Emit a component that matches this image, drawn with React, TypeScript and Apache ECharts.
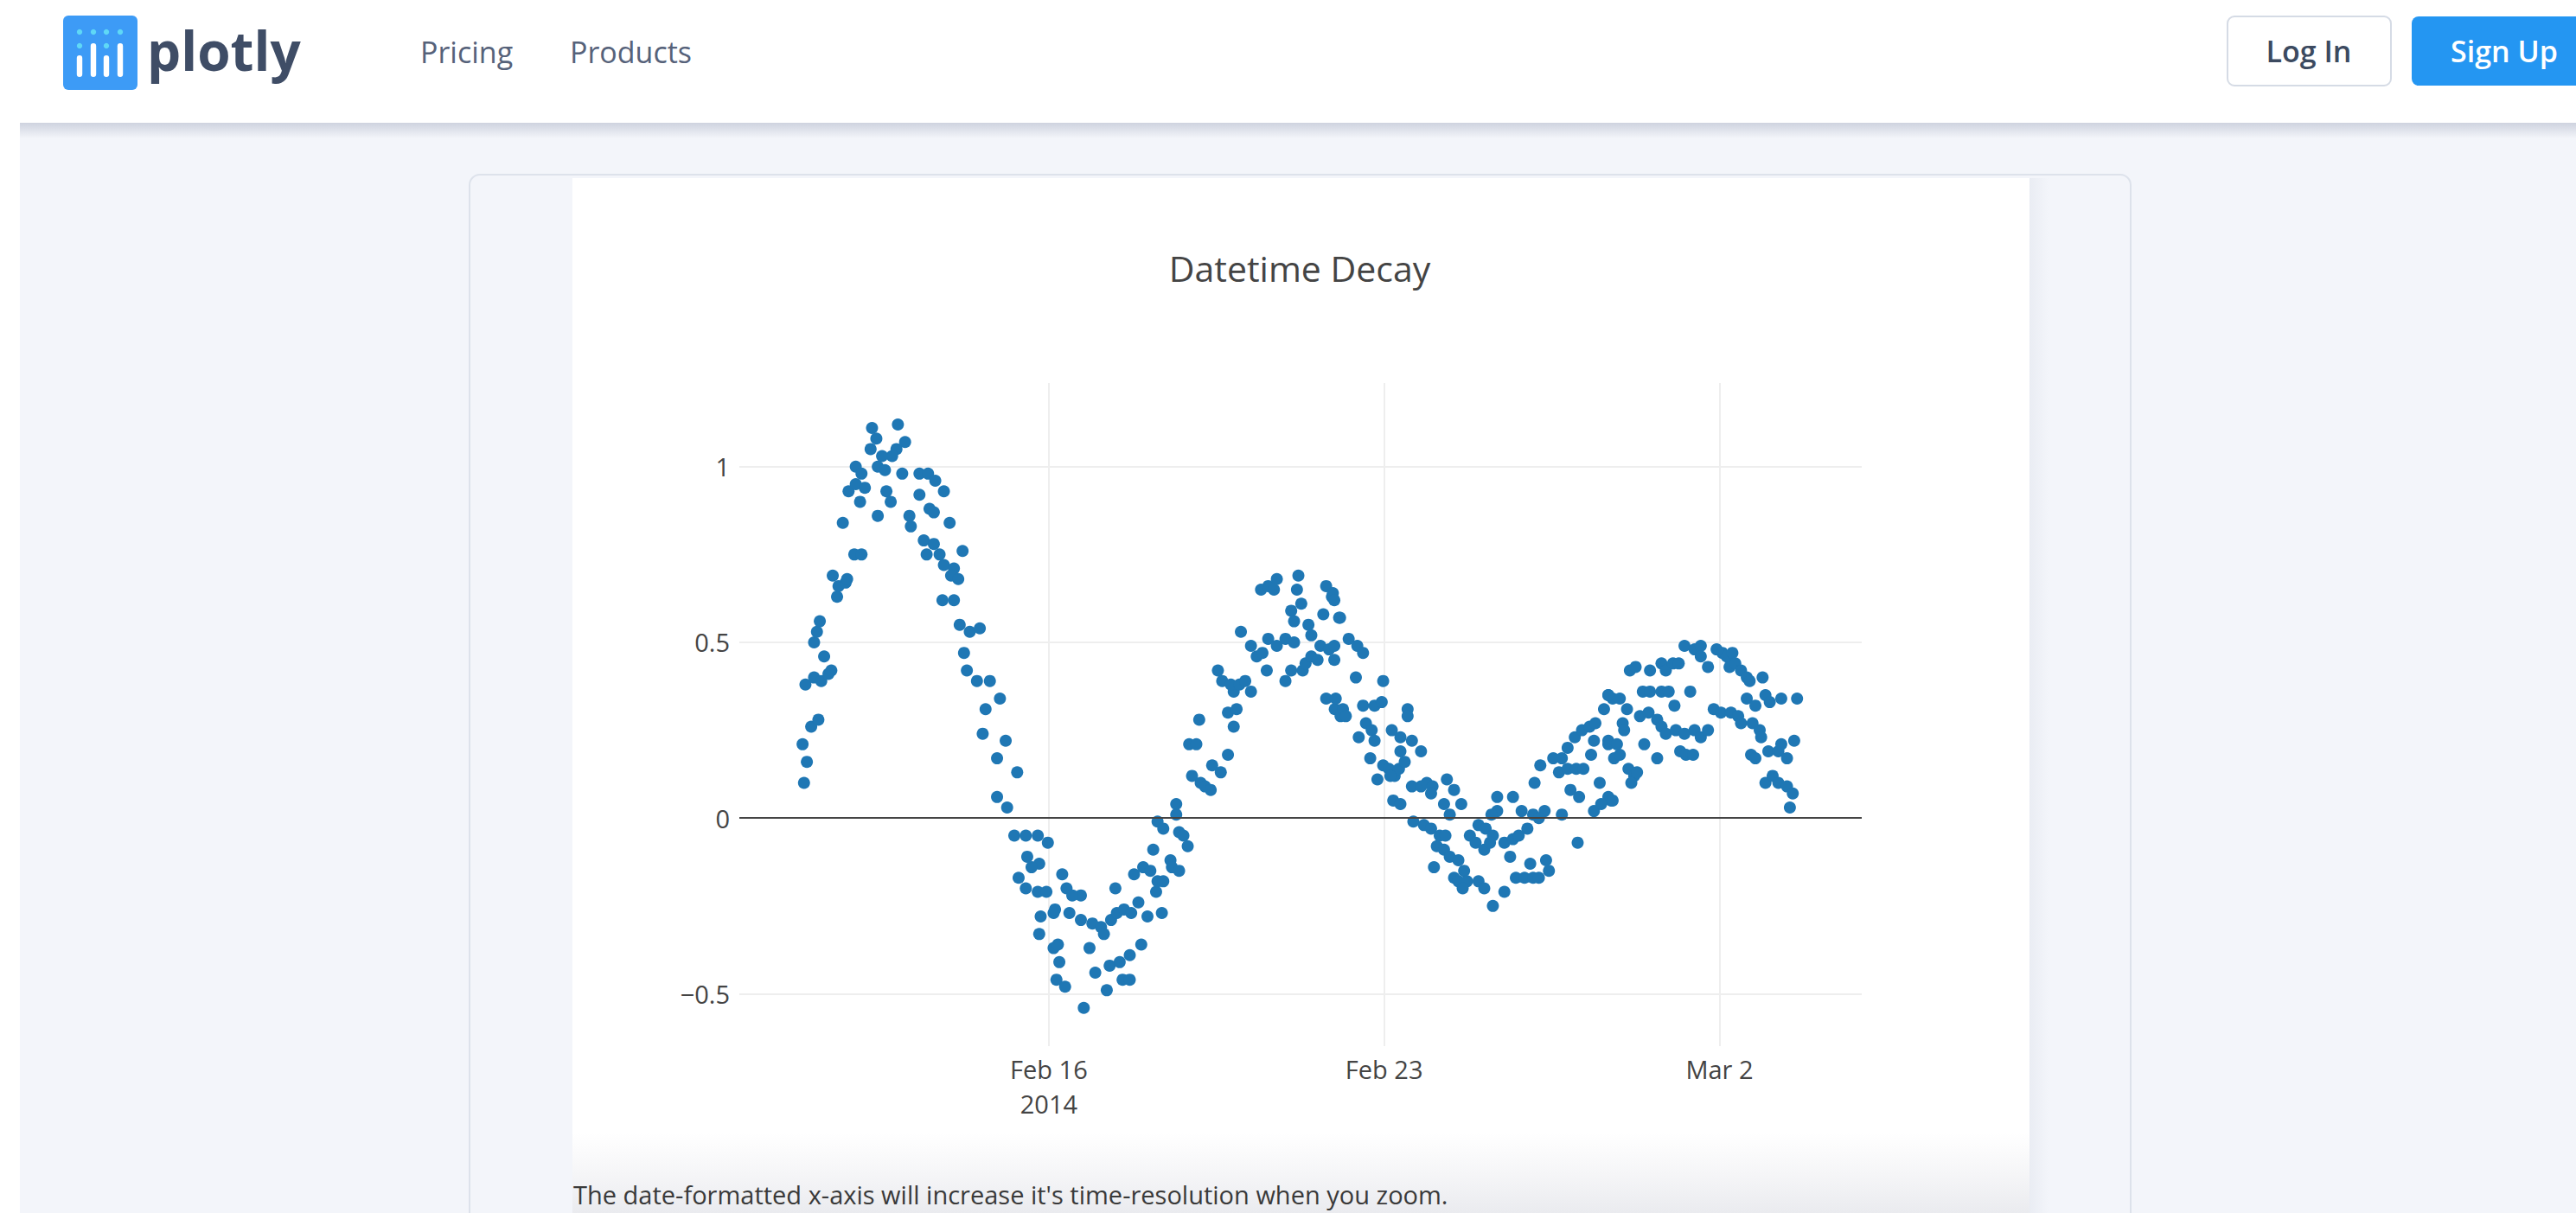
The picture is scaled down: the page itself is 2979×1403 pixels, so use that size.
import React, { useEffect, useRef } from "react";
import * as echarts from "echarts";

const W = 2979;
const H = 1403;
const DAY = 86400000;
const BASE = new Date(2014, 1, 10).getTime(); // 2014-02-10 00:00

// [days since 2014-02-10, value]
const firstPeak: [number, number][] = [
  [0.89, 0.10], [0.95, 0.16], [0.86, 0.21], [1.04, 0.26], [1.19, 0.28], [0.92, 0.38], [1.10, 0.40], [1.25, 0.39],
  [1.40, 0.41], [1.46, 0.42], [1.31, 0.46], [1.10, 0.50], [1.16, 0.53], [1.22, 0.56], [1.58, 0.63], [1.61, 0.66],
  [1.76, 0.67], [1.49, 0.69], [1.79, 0.68], [1.94, 0.75], [2.09, 0.75], [1.70, 0.84], [1.82, 0.93], [1.97, 0.95],
  [2.06, 0.90], [2.16, 0.94], [1.97, 1.00], [2.09, 0.98], [2.31, 1.11], [2.40, 1.08], [2.28, 1.05], [2.43, 1.00],
  [2.43, 0.86], [2.61, 0.93], [2.70, 0.90], [2.85, 1.12], [3.00, 1.07], [2.82, 1.05], [2.73, 1.03], [2.58, 0.99],
  [2.52, 1.03], [2.94, 0.98], [3.30, 0.98], [3.48, 0.98], [3.63, 0.96], [3.81, 0.93], [3.30, 0.92], [3.09, 0.86],
  [3.12, 0.83], [3.51, 0.88], [3.60, 0.87], [3.93, 0.84], [3.39, 0.79], [3.60, 0.78], [3.45, 0.75], [3.72, 0.75],
  [4.20, 0.76], [3.81, 0.72], [4.02, 0.71], [3.96, 0.69], [4.11, 0.68], [3.78, 0.62], [4.02, 0.62], [4.14, 0.55],
  [4.35, 0.53], [4.56, 0.54], [4.23, 0.47], [4.29, 0.42], [4.50, 0.39], [4.77, 0.39], [4.98, 0.34], [4.68, 0.31],
  [4.62, 0.24], [5.10, 0.22], [4.92, 0.17], [5.34, 0.13], [4.92, 0.06], [5.13, 0.03], [5.28, -0.05], [5.52, -0.05],
  [5.77, -0.05], [5.98, -0.07], [5.55, -0.11], [5.80, -0.13], [5.64, -0.14], [5.37, -0.17], [5.52, -0.20], [5.77, -0.21],
  [5.95, -0.21], [5.83, -0.28], [6.10, -0.27], [5.80, -0.33], [6.10, -0.37], [6.16, -0.46],
];

const firstTrough: [number, number][] = [
  [6.28, -0.16], [6.37, -0.20], [6.67, -0.22], [6.49, -0.22], [6.13, -0.26], [6.43, -0.27], [6.67, -0.29], [6.91, -0.30],
  [7.09, -0.31], [7.15, -0.33], [7.30, -0.29], [6.19, -0.36], [6.22, -0.41], [6.34, -0.48], [6.85, -0.37], [6.97, -0.44],
  [7.21, -0.49], [6.73, -0.54], [7.27, -0.42], [7.48, -0.41], [7.69, -0.39], [7.93, -0.36], [7.54, -0.46], [7.69, -0.46],
  [7.39, -0.20], [7.42, -0.27], [7.57, -0.26], [7.72, -0.27], [7.87, -0.24], [8.06, -0.28], [8.36, -0.27], [7.78, -0.16],
  [7.97, -0.14], [8.12, -0.15], [8.18, -0.09], [8.24, -0.21], [8.27, -0.18], [8.39, -0.18], [8.54, -0.12], [8.57, -0.14],
  [8.72, -0.15], [8.27, -0.01], [8.39, -0.03], [8.66, 0.04], [8.66, 0.01], [8.72, -0.04], [8.81, -0.05], [8.90, -0.08],
  [8.99, 0.12], [9.17, 0.10], [9.26, 0.09], [9.38, 0.08], [9.41, 0.15], [9.59, 0.13], [9.74, 0.18], [8.93, 0.21],
  [9.14, 0.28], [9.08, 0.21], [9.74, 0.30], [9.86, 0.26], [9.92, 0.31], [9.86, 0.36], [9.53, 0.42], [9.62, 0.39],
  [9.80, 0.38], [9.98, 0.38], [10.10, 0.39], [10.22, 0.36], [10.01, 0.53], [10.22, 0.49], [10.34, 0.46], [10.46, 0.47],
  [10.58, 0.51], [10.76, 0.49], [10.94, 0.51], [11.12, 0.50], [10.55, 0.42], [10.94, 0.39], [11.06, 0.42], [11.30, 0.42],
  [11.36, 0.44], [11.48, 0.46], [11.61, 0.45], [10.43, 0.65], [10.58, 0.66], [10.76, 0.68], [10.70, 0.65], [11.21, 0.69],
  [11.18, 0.65], [11.27, 0.61], [11.06, 0.59], [11.12, 0.56], [11.42, 0.55], [11.48, 0.52], [11.67, 0.49], [11.85, 0.48],
  [11.79, 0.66], [11.91, 0.63], [11.73, 0.58], [12.06, 0.57], [11.79, 0.34], [11.97, 0.31], [12.09, 0.29],
];

const secondTrough: [number, number][] = [
  [11.93, 0.64], [11.96, 0.62], [12.08, 0.57], [12.26, 0.51], [12.44, 0.49], [12.56, 0.47], [11.96, 0.49], [11.96, 0.45],
  [12.41, 0.40], [12.98, 0.39], [11.99, 0.34], [12.14, 0.31], [12.20, 0.29], [12.56, 0.32], [12.80, 0.32], [12.95, 0.33],
  [12.62, 0.27], [12.74, 0.25], [12.47, 0.23], [12.80, 0.22], [13.16, 0.25], [13.34, 0.23], [13.49, 0.31], [13.49, 0.29],
  [13.58, 0.22], [13.77, 0.19], [12.71, 0.17], [12.98, 0.15], [13.10, 0.14], [13.22, 0.12], [13.31, 0.14], [13.43, 0.16],
  [12.86, 0.11], [13.13, 0.12], [13.34, 0.19], [13.58, 0.09], [13.77, 0.09], [13.89, 0.10], [14.01, 0.09], [13.98, 0.07],
  [14.31, 0.11], [14.46, 0.08], [13.19, 0.05], [13.34, 0.04], [14.25, 0.04], [14.37, 0.01], [14.61, 0.04], [13.61, -0.01],
  [13.83, -0.02], [13.98, -0.03], [14.16, -0.05], [14.28, -0.05], [14.10, -0.08], [14.25, -0.09], [14.37, -0.11], [14.55, -0.12],
  [14.04, -0.14], [14.67, -0.15], [14.46, -0.17], [14.55, -0.18], [14.73, -0.18], [14.97, -0.18], [15.09, -0.20], [14.64, -0.20],
  [15.51, -0.21], [15.27, -0.25], [14.79, -0.05], [14.97, -0.02], [15.12, -0.03], [15.27, -0.05], [14.91, -0.07], [15.09, -0.09],
  [15.21, -0.07], [15.36, 0.06], [15.36, 0.02], [15.24, 0.01], [15.69, 0.06], [15.87, 0.02], [16.11, 0.01], [16.35, 0.02],
  [15.99, -0.03], [16.23, 0.00], [15.51, -0.07], [15.69, -0.06], [15.81, -0.05], [15.63, -0.11], [15.75, -0.17], [15.93, -0.17],
  [16.11, -0.17], [16.23, -0.17], [16.05, -0.13], [16.38, -0.12], [16.44, -0.15], [16.14, 0.10], [16.26, 0.15], [16.53, 0.17],
  [16.71, 0.17], [16.65, 0.13], [16.83, 0.14], [17.01, 0.14], [17.16, 0.14], [16.71, 0.01], [16.89, 0.08], [17.07, 0.06],
  [17.04, -0.07], [16.83, 0.20], [16.98, 0.23], [17.13, 0.25], [17.29, 0.26], [17.41, 0.27], [17.32, 0.18], [17.38, 0.22],
  [17.50, 0.10], [17.68, 0.06], [17.74, 0.05], [17.38, 0.02], [17.53, 0.04], [17.59, 0.31], [17.68, 0.35], [17.77, 0.34],
  [17.68, 0.21], [17.80, 0.17],
];

const thirdPeak: [number, number][] = [
  [17.68, 0.35], [17.92, 0.34], [18.07, 0.31], [17.98, 0.27], [18.01, 0.25], [17.68, 0.22], [17.86, 0.21], [17.92, 0.18],
  [17.77, 0.05], [18.13, 0.42], [18.25, 0.43], [18.55, 0.42], [18.79, 0.44], [18.88, 0.42], [19.03, 0.44], [19.15, 0.44],
  [19.27, 0.49], [19.48, 0.48], [19.61, 0.49], [19.61, 0.46], [19.76, 0.43], [19.94, 0.48], [20.06, 0.47], [20.15, 0.46],
  [20.27, 0.47], [20.21, 0.43], [20.33, 0.44], [20.45, 0.42], [20.57, 0.40], [20.63, 0.39], [20.90, 0.40], [18.40, 0.36],
  [18.55, 0.36], [18.79, 0.36], [18.94, 0.36], [19.06, 0.32], [19.39, 0.36], [18.34, 0.29], [18.52, 0.30], [18.70, 0.28],
  [18.79, 0.26], [18.88, 0.24], [19.09, 0.25], [19.27, 0.24], [19.48, 0.25], [18.43, 0.21], [18.70, 0.17], [19.18, 0.19],
  [19.30, 0.18], [19.45, 0.18], [19.61, 0.23], [19.76, 0.25], [18.10, 0.14], [18.22, 0.12], [18.28, 0.13], [18.16, 0.10],
  [19.88, 0.31], [20.03, 0.30], [20.24, 0.30], [20.39, 0.29], [20.45, 0.27], [20.69, 0.27], [20.84, 0.25], [20.87, 0.23],
  [20.57, 0.34], [20.75, 0.32], [20.96, 0.35], [21.05, 0.33], [21.29, 0.34], [21.62, 0.34], [20.66, 0.18], [20.75, 0.17],
  [21.02, 0.19], [21.23, 0.19], [21.41, 0.17], [21.56, 0.22], [21.29, 0.21], [20.96, 0.10], [21.11, 0.12], [21.23, 0.10],
  [21.41, 0.09], [21.53, 0.07], [21.47, 0.03],
];

const xTickDays = [6, 13, 20];
const xTickLabels = ["Feb 16\n2014", "Feb 23", "Mar 2"];
const yTicks = [-0.5, 0, 0.5, 1];

const TITLE = "Datetime Decay";
const CAPTION = "The date-formatted x-axis will increase it's time-resolution when you zoom.";

const FONT = '"Open Sans", "Noto Sans", sans-serif';

export default function App() {
  const ref = useRef<HTMLDivElement>(null);

  useEffect(() => {
    const el = ref.current;
    if (!el) return;
    const chart = echarts.init(el, null, { renderer: "svg", width: W, height: H });

    const points = [...firstPeak, ...firstTrough, ...secondTrough, ...thirdPeak].map(
      ([d, v]) => [BASE + d * DAY, v]
    );
    const xTickValues = xTickDays.map((d) => BASE + d * DAY);

    // logo geometry (relative to logo box)
    const LX = 73;
    const LY = 18;
    const logoCols = [19, 35, 50, 66];

    const graphics: any[] = [
      // page background
      { type: "rect", z: -100, silent: true, shape: { x: 23, y: 142, width: W - 23, height: H - 142 }, style: { fill: "#f3f5fa" } },
      // header shadow
      {
        type: "rect", z: -99, silent: true,
        shape: { x: 23, y: 142, width: W - 23, height: 18 },
        style: {
          fill: new echarts.graphic.LinearGradient(0, 0, 0, 1, [
            { offset: 0, color: "rgba(120,130,160,0.30)" },
            { offset: 1, color: "rgba(120,130,160,0)" },
          ]),
        },
      },
      // card
      { type: "rect", z: -98, silent: true, shape: { x: 543, y: 202, width: 1921, height: 1300, r: 12 }, style: { fill: "#f3f5fa", stroke: "#dde2eb", lineWidth: 2 } },
      // white chart panel
      { type: "rect", z: -97, silent: true, shape: { x: 662, y: 206, width: 1685, height: 1197 }, style: { fill: "#ffffff" } },
      // soft shadow right of panel
      {
        type: "rect", z: -97, silent: true,
        shape: { x: 2347, y: 206, width: 22, height: 1197 },
        style: {
          fill: new echarts.graphic.LinearGradient(0, 0, 1, 0, [
            { offset: 0, color: "rgba(205,210,222,0.25)" },
            { offset: 1, color: "rgba(205,210,222,0)" },
          ]),
        },
      },
      // bottom fade
      {
        type: "rect", z: -96, silent: true,
        shape: { x: 662, y: 1310, width: 1685, height: 93 },
        style: {
          fill: new echarts.graphic.LinearGradient(0, 0, 0, 1, [
            { offset: 0, color: "rgba(238,238,241,0)" },
            { offset: 1, color: "rgba(234,235,239,1)" },
          ]),
        },
      },
      // title
      { type: "text", z: 10, x: 1503, y: 310, style: { text: TITLE, fill: "#444444", font: `41px ${FONT}`, textAlign: "center", textVerticalAlign: "middle" } },
      // caption
      { type: "text", z: 10, x: 663, y: 1381, style: { text: CAPTION, fill: "#3a3a3a", font: `29px ${FONT}`, textAlign: "left", textVerticalAlign: "middle" } },
      // logo
      { type: "rect", z: 10, shape: { x: LX, y: LY, width: 86, height: 86, r: 6 }, style: { fill: "#3d9bf6" } },
      ...logoCols.map((cx) => ({ type: "circle", z: 11, shape: { cx: LX + cx, cy: LY + 19, r: 3.2 }, style: { fill: "#5fd8f6" } })),
      ...logoCols.map((cx, i) =>
        i % 2 === 0
          ? { type: "circle", z: 11, shape: { cx: LX + cx, cy: LY + 35, r: 3.2 }, style: { fill: "#5fd8f6" } }
          : { type: "rect", z: 11, shape: { x: LX + cx - 3.2, y: LY + 32, width: 6.4, height: 39, r: 3.2 }, style: { fill: "#ffffff" } }
      ),
      ...logoCols
        .filter((_, i) => i % 2 === 0)
        .map((cx) => ({ type: "rect", z: 11, shape: { x: LX + cx - 3.2, y: LY + 46, width: 6.4, height: 25, r: 3.2 }, style: { fill: "#ffffff" } })),
      { type: "text", z: 10, x: 170, y: 58, style: { text: "plotly", fill: "#3f4d66", font: `bold 62px ${FONT}`, textAlign: "left", textVerticalAlign: "middle" } },
      // nav
      { type: "text", z: 10, x: 486, y: 60, style: { text: "Pricing", fill: "#56627a", font: `34px ${FONT}`, textAlign: "left", textVerticalAlign: "middle" } },
      { type: "text", z: 10, x: 659, y: 60, style: { text: "Products", fill: "#56627a", font: `34px ${FONT}`, textAlign: "left", textVerticalAlign: "middle" } },
      // buttons
      { type: "rect", z: 10, shape: { x: 2576, y: 19, width: 189, height: 80, r: 8 }, style: { fill: "#ffffff", stroke: "#d5dbe5", lineWidth: 2 } },
      { type: "text", z: 11, x: 2670, y: 59, style: { text: "Log In", fill: "#3c4a60", font: `600 34px ${FONT}`, textAlign: "center", textVerticalAlign: "middle" } },
      { type: "rect", z: 10, shape: { x: 2789, y: 19, width: 230, height: 80, r: 8 }, style: { fill: "#2496f2" } },
      { type: "text", z: 11, x: 2896, y: 59, style: { text: "Sign Up", fill: "#ffffff", font: `600 34px ${FONT}`, textAlign: "center", textVerticalAlign: "middle" } },
    ];

    const option: any = {
      animation: false,
      backgroundColor: "#ffffff",
      textStyle: { fontFamily: FONT },
      grid: { left: 855, right: W - 2153, top: 443, bottom: H - 1210, containLabel: false },
      xAxis: {
        type: "value",
        min: BASE - 0.46 * DAY,
        max: BASE + 22.97 * DAY,
        axisLine: { show: false },
        axisTick: { show: false, customValues: xTickValues },
        splitLine: { show: true, lineStyle: { color: "#eeeeee", width: 2 } },
        axisLabel: {
          customValues: xTickValues,
          color: "#444444",
          fontSize: 29,
          lineHeight: 40,
          margin: 6,
          fontFamily: FONT,
          formatter: (val: number) => {
            const idx = xTickValues.findIndex((t) => Math.abs(t - val) < DAY / 2);
            return idx >= 0 ? xTickLabels[idx] : "";
          },
        },
      },
      yAxis: {
        type: "value",
        min: -0.649,
        max: 1.238,
        axisLine: { show: false },
        axisTick: { show: false, customValues: yTicks },
        splitLine: { show: true, lineStyle: { color: "#eeeeee", width: 2 } },
        axisLabel: {
          customValues: yTicks,
          color: "#444444",
          fontSize: 29,
          margin: 11,
          fontFamily: FONT,
          formatter: (v: number) => (v < 0 ? "\u2212" + Math.abs(v) : String(v)),
        },
      },
      series: [
        {
          type: "scatter",
          data: points,
          symbol: "circle",
          symbolSize: 14,
          itemStyle: { color: "#1f77b4", opacity: 1 },
          emphasis: { disabled: true },
          markLine: {
            silent: true,
            symbol: "none",
            label: { show: false },
            lineStyle: { color: "#444444", width: 2, type: "solid" },
            data: [{ yAxis: 0 }],
          },
        },
      ],
      graphic: { elements: graphics },
    };

    chart.setOption(option);
    return () => chart.dispose();
  }, []);

  return <div ref={ref} style={{ position: "fixed", left: 0, top: 0, width: W, height: H }} />;
}
